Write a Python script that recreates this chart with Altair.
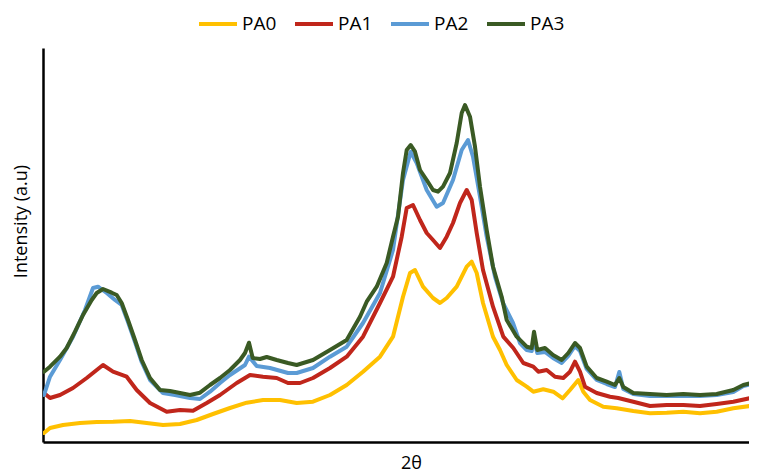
import altair as alt
import pandas as pd

# Readings from the reference (x: position along 2θ axis, y: intensity, arbitrary units)
pa3_x = [1, 7, 17, 23.7, 32, 40, 48.7, 53.7, 60, 68.7, 73.7, 78.7, 85, 92, 98.7, 107, 117, 127, 137, 147,
         157, 167, 177, 187, 197, 202, 206, 209.7, 217, 223.7, 233.7, 245, 253.7, 270, 287, 303.7, 317, 323.7,
         333.7, 343.7, 350, 355, 360, 363.7, 367.7, 372, 377, 383.7, 390, 395, 400, 407, 413.7, 418.7, 422,
         427, 432, 437, 443.7, 450, 458.7, 463.7, 473.7, 483.7, 488.7, 491, 494.3, 502, 510, 518.7, 525.3,
         532, 537, 543.7, 553.7, 563.7, 572, 576.3, 580.3, 590.3, 607, 623.7, 640.3, 657, 673.7, 690.3, 700.3, 714]
pa3_y = [70.3, 75.3, 85.3, 94, 110.3, 127, 142, 149, 153, 149.3, 147, 139, 122, 102, 82, 64, 52, 51, 49, 47,
         49.3, 57, 64, 72, 82, 89, 99.3, 84, 83, 85, 82, 79, 77, 82, 92, 102, 125.3, 140.3,
         155.3, 179, 205.3, 225.3, 269, 292, 297, 290.3, 272, 262, 252, 250.3, 255.3, 269, 299, 329, 337,
         325.3, 295.3, 255.3, 212, 175.3, 145.3, 122, 105.3, 95.3, 94, 110.3, 92, 94, 87, 82, 89,
         99, 94, 75.3, 64, 60.3, 57, 64, 55, 49, 48, 47, 48, 47, 48, 52, 57, 60.3]

pa2_x = [1, 7, 17, 30, 42, 50, 55, 63.7, 72, 78.7, 85, 92, 98.7, 107, 120, 132, 147, 157, 167, 177, 187,
         202, 206, 213.7, 227, 245, 253.7, 270, 287, 303.7, 320, 337, 350, 360, 367.7, 373.7, 383.7, 393.7,
         400, 410, 418.7, 425, 430, 437, 443.7, 452, 460, 470, 477, 483.7, 488.7, 491, 494.3, 502, 510,
         518.7, 525.3, 532, 537, 543.7, 553.7, 563.7, 572, 576.3, 580.3, 590.3, 607, 623.7, 640.3, 657,
         673.7, 690.3, 700.3, 714]
pa2_y = [47, 65.3, 82, 105.3, 132, 154, 155.3, 149, 142, 137, 120, 100, 80, 62, 49, 47, 44, 43, 50.3, 59, 67,
         77, 85.3, 76, 74, 69, 69, 74, 85.3, 95.3, 119, 149, 192, 262, 290.3, 279, 252, 235.3,
         239, 262, 292, 302, 285.3, 245.3, 205.3, 165.3, 139, 119, 99, 92, 91, 102, 89, 90, 84,
         79, 86, 96, 91, 73, 62, 58, 55, 70, 53, 48, 46, 46, 46, 46,
         47, 50, 56, 59]

pa1_x = [1, 7, 17, 30, 43.7, 53.7, 60, 70, 83.7, 93.7, 107, 123.7, 137, 150, 163.7, 177, 193.7, 207, 220,
         233.7, 245, 257, 270, 287, 303.7, 320, 337, 350, 358.7, 363.7, 370, 377, 383.7, 390, 397, 403.7,
         410, 417, 423.7, 428.7, 433.7, 440, 450, 460.3, 470.3, 480.3, 490.3, 495.3, 503.7, 512, 520.3,
         527, 532, 537, 542, 553.7, 567, 575.3, 590.3, 607, 623.7, 640.3, 657, 673.7, 690.3, 714]
pa1_y = [49, 44, 47, 54, 64, 72, 77, 70.3, 65.3, 52, 39, 30.3, 32, 31.3, 39, 47, 59, 67, 65.3,
         64, 59, 59, 64, 74, 85.3, 105.3, 139, 165.3, 205.3, 234, 237, 222, 209, 202, 194, 205.3,
         219, 239, 252, 242, 209, 172, 135.3, 105.3, 94, 79, 75.3, 70.3, 72, 65.3, 64,
         70.3, 80.3, 70.3, 55.3, 49, 45.3, 44, 40.3, 36, 37, 37, 36, 38, 40.3, 45.3]

pa0_x = [1, 7, 20, 37, 53.7, 70, 87, 103.7, 120, 137, 153.7, 170, 187, 203.7, 220, 237, 253.7, 270, 287,
         303.7, 320, 337, 350, 360, 367, 372, 380, 390, 397, 403.7, 413.7, 423.7, 428.7, 433.7, 440, 450,
         457, 463.7, 473.7, 483.7, 490.3, 500.3, 510.3, 519.7, 527, 535.3, 540.3, 547, 560.3, 573.7, 590.3,
         607, 623.7, 640.3, 657, 673.7, 690.3, 714]
pa0_y = [9, 14, 17, 19, 20, 20.3, 21, 19, 17, 18, 22, 28, 34, 39.3, 42, 42, 39, 40.3, 47,
         57, 70.3, 85.3, 105.3, 145.3, 169, 172, 155.3, 144, 139, 144, 155.3, 175.3, 180.3, 169, 139, 105.3,
         92, 77, 62, 55.3, 50.3, 52.7, 50.3, 43.7, 52, 62, 50.3, 42, 35.3, 33.7, 31,
         28.7, 29.3, 30.3, 28.7, 30.3, 33.7, 37]

series_names = ["PA0", "PA1", "PA2", "PA3"]
series_colors = ["#FFC000", "#C0261B", "#5B9BD5", "#3A5A24"]

frames = []
for name, xs, ys in [("PA0", pa0_x, pa0_y), ("PA1", pa1_x, pa1_y),
                     ("PA2", pa2_x, pa2_y), ("PA3", pa3_x, pa3_y)]:
    frames.append(pd.DataFrame({"x": xs, "y": ys, "series": name, "idx": range(len(xs))}))
df = pd.concat(frames, ignore_index=True)

chart = alt.Chart(df).mark_line(strokeWidth=4, strokeJoin="round", strokeCap="round", clip=True).encode(
    x=alt.X("x:Q", scale=alt.Scale(domain=[0, 706], nice=False, zero=False),
            axis=alt.Axis(title="2θ", labels=False, ticks=False, grid=False,
                          domainColor="black", domainWidth=2.5,
                          titleFontSize=18, titleFontWeight="normal", titleFont="Open Sans",
                          titleColor="black", titleX=368, titleY=21, titleBaseline="middle",
                          titleAlign="center")),
    y=alt.Y("y:Q", scale=alt.Scale(domain=[0, 394], nice=False, zero=False),
            axis=alt.Axis(title="Intensity (a.u)", labels=False, ticks=False, grid=False,
                          domainColor="black", domainWidth=2.5,
                          titleFontSize=18, titleFontWeight="normal", titleFont="Open Sans",
                          titleColor="black", titleX=-22, titleY=173, titleBaseline="middle",
                          titleAlign="center", titleAngle=270)),
    color=alt.Color("series:N", sort=series_names,
                    scale=alt.Scale(domain=series_names, range=series_colors),
                    legend=alt.Legend(title=None, orient="none", direction="horizontal",
                                      legendX=154, legendY=-45, symbolType="stroke",
                                      symbolSize=1444, symbolStrokeWidth=4,
                                      labelFontSize=19, labelFont="Open Sans", labelColor="black",
                                      labelOffset=3, columnPadding=10)),
    order="idx:Q",
).properties(
    width=706, height=394,
    autosize=alt.AutoSizeParams(type="none"),
    padding={"left": 35, "top": 40, "right": 0, "bottom": 32},
).configure_view(stroke=None)

chart.save("out.html", embed_options={"renderer": "svg", "actions": False})
